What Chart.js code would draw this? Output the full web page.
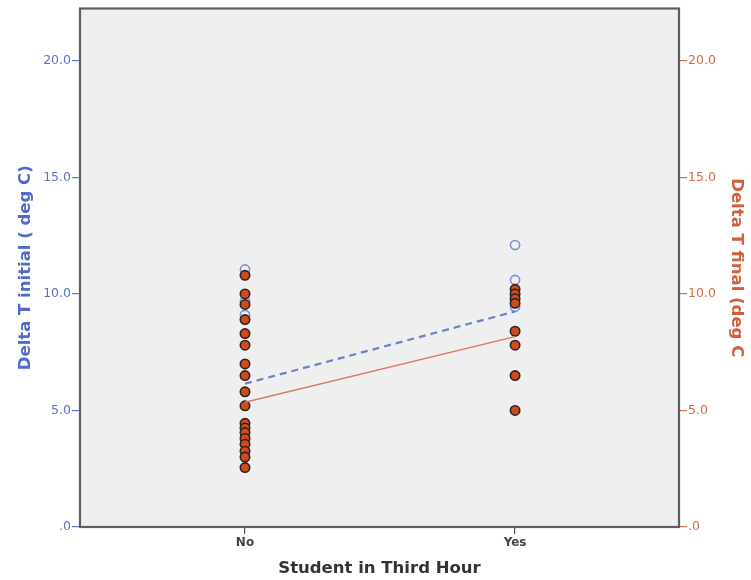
<!DOCTYPE html>
<html>
<head>
<meta charset="utf-8">
<script src="https://cdn.jsdelivr.net/npm/chart.js@4"></script>
<style>
  html, body { margin: 0; padding: 0; background: #ffffff; }
  #wrap { width: 751px; height: 580px; }
</style>
</head>
<body>
<div id="wrap"><canvas id="c" width="751" height="580"></canvas></div>
<script>
// Groups on the horizontal axis
const categories = ['No', 'Yes'];

// Delta T initial (deg C), per group
const initialNo = [11.05, 9.7, 9.1];
const initialYes = [12.1, 10.6, 9.45];

// Delta T final (deg C), per group
const finalNo = [10.8, 10.0, 9.55, 8.9, 8.3, 7.8, 7.0, 6.5, 5.8, 5.2,
                 4.45, 4.25, 4.05, 3.8, 3.55, 3.25, 3.0, 2.55];
const finalYes = [10.2, 10.0, 9.8, 9.6, 8.4, 7.8, 6.5, 5.0];

// Fit lines (group means) for each measure: [No, Yes]
const initialFit = [6.15, 9.25];
const finalFit = [5.35, 8.17];

// Value axis ticks (shared by both vertical axes)
const yTicks = [0, 5, 10, 15, 20];
const yTickLabels = ['.0', '5.0', '10.0', '15.0', '20.0'];

const BLUE = '#6b80cf';
const BLUE_TEXT = '#5a72c6';
const RED_TEXT = '#d06a48';
const FONT = "'DejaVu Sans', 'Liberation Sans', sans-serif";

function pointsFor(values, catIndex) {
  return values.map(v => ({ x: catIndex, y: v }));
}
function fitPoints(fit) {
  return fit.map((v, i) => ({ x: i, y: v }));
}

// Grey plotting panel with a dark frame
const framePlugin = {
  id: 'frame',
  beforeDraw(chart) {
    const { ctx, chartArea: a } = chart;
    ctx.save();
    ctx.fillStyle = '#efefef';
    ctx.fillRect(a.left, a.top, a.right - a.left, a.bottom - a.top);
    ctx.restore();
  },
  afterDatasetsDraw(chart) {
    const { ctx, chartArea: a } = chart;
    ctx.save();
    ctx.strokeStyle = '#5e5e5e';
    ctx.lineWidth = 2.2;
    ctx.strokeRect(a.left, a.top, a.right - a.left, a.bottom - a.top);
    ctx.restore();
  }
};

new Chart(document.getElementById('c'), {
  type: 'scatter',
  data: {
    datasets: [
      {
        label: 'Delta T initial',
        data: pointsFor(initialNo, 0).concat(pointsFor(initialYes, 1)),
        yAxisID: 'y',
        backgroundColor: 'rgba(0,0,0,0)',
        borderColor: '#7d90d8',
        borderWidth: 1.6,
        pointRadius: 4.6,
        order: 4
      },
      {
        label: 'Delta T final',
        data: pointsFor(finalNo, 0).concat(pointsFor(finalYes, 1)),
        yAxisID: 'y2',
        backgroundColor: '#cf4a1c',
        borderColor: '#2b2220',
        borderWidth: 1.6,
        pointRadius: 4.7,
        order: 3
      },
      {
        type: 'line',
        label: 'Fit initial',
        data: fitPoints(initialFit),
        yAxisID: 'y',
        borderColor: BLUE,
        borderWidth: 2.2,
        borderDash: [7, 5],
        pointRadius: 0,
        fill: false,
        order: 2
      },
      {
        type: 'line',
        label: 'Fit final',
        data: fitPoints(finalFit),
        yAxisID: 'y2',
        borderColor: '#da7a5f',
        borderWidth: 1.5,
        pointRadius: 0,
        fill: false,
        order: 1
      }
    ]
  },
  options: {
    responsive: false,
    animation: false,
    devicePixelRatio: 1,
    layout: { padding: { top: 7, left: 0, right: 0, bottom: 0 } },
    plugins: {
      legend: { display: false },
      tooltip: { enabled: false }
    },
    scales: {
      x: {
        type: 'linear',
        position: 'bottom',
        min: -0.611,
        max: 1.607,
        afterBuildTicks: s => { s.ticks = categories.map((c, i) => ({ value: i })); },
        afterFit: s => { s.height = 53; },
        grid: { drawOnChartArea: false, tickLength: 7, color: '#555555', lineWidth: 1.2 },
        border: { display: false },
        ticks: {
          padding: 2,
          color: '#444444',
          font: { family: FONT, size: 12, weight: 'bold' },
          callback: v => categories[v]
        },
        title: {
          display: true,
          text: 'Student in Third Hour',
          color: '#333333',
          font: { family: FONT, size: 16.5, weight: 'bold' },
          padding: { top: 0, bottom: 1 }
        }
      },
      y: {
        type: 'linear',
        position: 'left',
        min: 0,
        max: 22.25,
        afterBuildTicks: s => { s.ticks = yTicks.map(v => ({ value: v })); },
        afterFit: s => { s.width = 80; },
        grid: { drawOnChartArea: false, tickLength: 8, color: BLUE_TEXT, lineWidth: 1.2 },
        border: { display: false },
        ticks: {
          padding: 1,
          color: BLUE_TEXT,
          font: { family: FONT, size: 12.5 },
          callback: v => yTickLabels[yTicks.indexOf(v)]
        },
        title: {
          display: true,
          text: 'Delta T initial ( deg C)',
          color: '#4f6bc7',
          font: { family: FONT, size: 16.5, weight: 'bold' },
          padding: { top: 16, bottom: 0 }
        }
      },
      y2: {
        type: 'linear',
        position: 'right',
        min: 0,
        max: 22.25,
        afterBuildTicks: s => { s.ticks = yTicks.map(v => ({ value: v })); },
        afterFit: s => { s.width = 72; },
        grid: { drawOnChartArea: false, tickLength: 8, color: RED_TEXT, lineWidth: 1.2 },
        border: { display: false },
        ticks: {
          padding: 1,
          color: RED_TEXT,
          font: { family: FONT, size: 12.5 },
          callback: v => yTickLabels[yTicks.indexOf(v)]
        },
        title: {
          display: true,
          text: 'Delta T final (deg C',
          color: '#d0603c',
          font: { family: FONT, size: 16.5, weight: 'bold' },
          padding: { top: 5, bottom: 0 }
        }
      }
    }
  },
  plugins: [framePlugin]
});
</script>
</body>
</html>
